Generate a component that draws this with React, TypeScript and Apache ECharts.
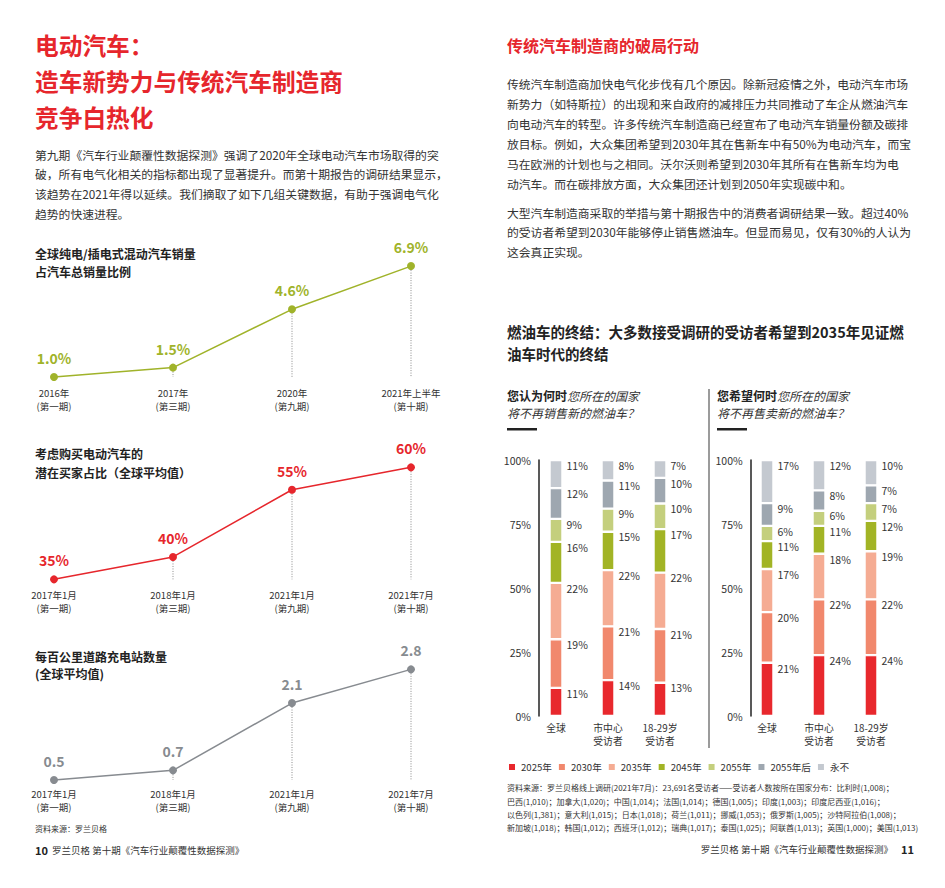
import React, { useEffect, useRef } from 'react';
import * as echarts from 'echarts';

const FONT = "'Noto Sans CJK SC', 'Noto Sans', sans-serif";
const RED = '#e6262c';
const GREEN = '#a0b32a';
const GRAY = '#878b90';
const TEXT = '#333333';

// ---- line charts ----
const evShareCategories = ['2016年\n(第一期)', '2017年\n(第三期)', '2020年\n(第九期)', '2021年上半年\n(第十期)'];
const evShareValues = [1.0, 1.5, 4.6, 6.9];
const buyerCategories = ['2017年1月\n(第一期)', '2018年1月\n(第三期)', '2021年1月\n(第九期)', '2021年7月\n(第十期)'];
const buyerValues = [35, 40, 55, 60];
const chargerCategories = ['2017年1月\n(第一期)', '2018年1月\n(第三期)', '2021年1月\n(第九期)', '2021年7月\n(第十期)'];
const chargerValues = [0.5, 0.7, 2.1, 2.8];

// ---- stacked bars ----
const stackNames = ['2025年', '2030年', '2035年', '2045年', '2055年', '2055年后', '永不'];
const stackColors = ['#e8282d', '#f1886d', '#f5ac93', '#a2b425', '#c4cf7d', '#9ea7b0', '#c4c9d0'];
const barCategories = ['全球', '市中心\n受访者', '18-29岁\n受访者'];

const willStop2025 = [11, 14, 13];
const willStop2030 = [19, 21, 21];
const willStop2035 = [22, 22, 22];
const willStop2045 = [16, 15, 17];
const willStop2055 = [9, 9, 10];
const willStopAfter2055 = [12, 11, 10];
const willStopNever = [11, 8, 7];

const hopeStop2025 = [21, 24, 24];
const hopeStop2030 = [20, 22, 22];
const hopeStop2035 = [17, 18, 19];
const hopeStop2045 = [11, 11, 12];
const hopeStop2055 = [6, 6, 7];
const hopeStopAfter2055 = [9, 8, 7];
const hopeStopNever = [17, 12, 10];

const pctTicks = [0, 25, 50, 75, 100];

function lineSeries(idx: number, values: number[], color: string, fmt: (v: number) => string) {
  return [
    {
      type: 'custom',
      xAxisIndex: idx,
      yAxisIndex: idx,
      silent: true,
      z: 1,
      data: values.map((v, i) => [i, v, values[0]]),
      renderItem: (params: any, api: any) => {
        const i = api.value(0);
        const p1 = api.coord([i, api.value(1)]);
        const p2 = api.coord([i, api.value(2)]);
        if (p1[1] >= p2[1] - 1) return { type: 'group', children: [] };
        return {
          type: 'line',
          shape: { x1: p1[0], y1: p1[1] + 4, x2: p2[0], y2: p2[1] },
          style: { stroke: '#8a8a8a', lineWidth: 1, lineDash: [1, 1.5] },
        };
      },
    },
    {
      type: 'line',
      xAxisIndex: idx,
      yAxisIndex: idx,
      data: values,
      symbol: 'circle',
      symbolSize: 8,
      z: 3,
      lineStyle: { color, width: 1.5 },
      itemStyle: { color },
      label: {
        show: true,
        position: 'top',
        distance: 8,
        color,
        fontSize: 14,
        fontWeight: 'bold',
        fontFamily: FONT,
        formatter: (p: any) => fmt(p.value),
      },
    },
  ];
}

function stackSeries(idx: number, groups: number[][]) {
  const totals = groups[0].map((_, j) => groups.reduce((s, g) => s + g[j], 0));
  return groups.map((g, k) => ({
    type: 'bar',
    name: stackNames[k],
    stack: 'total' + idx,
    xAxisIndex: idx,
    yAxisIndex: idx,
    barWidth: 13,
    data: g.map((v, j) => (v / totals[j]) * 100),
    itemStyle: { color: stackColors[k], borderColor: '#ffffff', borderWidth: 1.2 },
    label: {
      show: true,
      position: ['100%', 0],
      align: 'left',
      verticalAlign: 'top',
      offset: [4, 0],
      color: TEXT,
      fontSize: 10.5,
      fontFamily: FONT,
      formatter: (p: any) => g[p.dataIndex] + '%',
    },
  }));
}

function lineXAxis(idx: number, cats: string[]) {
  return {
    type: 'category',
    gridIndex: idx,
    data: cats,
    boundaryGap: false,
    axisLine: { show: false },
    axisTick: { show: false },
    axisLabel: { interval: 0, margin: 0, fontSize: 9.5, lineHeight: 13.3, color: TEXT, fontFamily: FONT },
  };
}
function hiddenY(idx: number, min: number, max: number) {
  return { type: 'value', gridIndex: idx, min, max, show: false, splitLine: { show: false } };
}
function barXAxis(idx: number) {
  return {
    type: 'category',
    gridIndex: idx,
    data: barCategories,
    axisLine: { show: false },
    axisTick: { show: false },
    axisLabel: { interval: 0, margin: 5, fontSize: 9.8, lineHeight: 13.5, color: TEXT, fontFamily: FONT },
  };
}
function barYAxis(idx: number, offset: number) {
  return {
    type: 'value',
    gridIndex: idx,
    min: pctTicks[0],
    max: pctTicks[pctTicks.length - 1],
    interval: pctTicks[1] - pctTicks[0],
    offset,
    axisLine: { show: true, lineStyle: { color: '#222', width: 1.5 } },
    axisTick: { show: false },
    splitLine: { show: false },
    axisLabel: { margin: 8, fontSize: 10.5, color: TEXT, fontFamily: FONT, formatter: '{value}%' },
  };
}

function txt(x: number, y: number, text: string, s: any) {
  return {
    type: 'text',
    x,
    y,
    silent: true,
    style: { text, fontFamily: FONT, fill: TEXT, verticalAlign: 'middle', ...s },
  };
}

const graphics: any[] = [
  txt(35, 27, '电动汽车：\n造车新势力与传统汽车制造商\n竞争白热化', {
    fontSize: 23.7, fontWeight: 'bold', lineHeight: 36, fill: RED, verticalAlign: 'top',
  }),
  txt(35, 144.2,
    '第九期《汽车行业颠覆性数据探测》强调了2020年全球电动汽车市场取得的突\n破，所有电气化相关的指标都出现了显著提升。而第十期报告的调研结果显示，\n该趋势在2021年得以延续。我们摘取了如下几组关键数据，有助于强调电气化\n趋势的快速进程。',
    { fontSize: 11.8, lineHeight: 19.7, verticalAlign: 'top' }),
  txt(35, 254 - 8.85, '全球纯电/插电式混动汽车销量\n占汽车总销量比例', { fontSize: 12, fontWeight: 'bold', lineHeight: 17.7, verticalAlign: 'top', fill: '#222' }),
  txt(35, 453.3 - 9.5, '考虑购买电动汽车的\n潜在买家占比（全球平均值）', { fontSize: 12, fontWeight: 'bold', lineHeight: 19, verticalAlign: 'top', fill: '#222' }),
  txt(35, 656.7 - 8.3, '每百公里道路充电站数量\n(全球平均值)', { fontSize: 12, fontWeight: 'bold', lineHeight: 16.6, verticalAlign: 'top', fill: '#222' }),
  txt(35, 828, '资料来源：罗兰贝格', { fontSize: 8 }),
  txt(35, 850, '10', { fontSize: 11, fontWeight: 'bold', fill: '#222' }),
  txt(52, 850, '罗兰贝格 第十期《汽车行业颠覆性数据探测》', { fontSize: 9.5 }),

  txt(507, 45, '传统汽车制造商的破局行动', { fontSize: 16, fontWeight: 'bold', fill: RED }),
  txt(507, 73,
    '传统汽车制造商加快电气化步伐有几个原因。除新冠疫情之外，电动汽车市场\n新势力（如特斯拉）的出现和来自政府的减排压力共同推动了车企从燃油汽车\n向电动汽车的转型。许多传统汽车制造商已经宣布了电动汽车销量份额及碳排\n放目标。例如，大众集团希望到2030年其在售新车中有50%为电动汽车，而宝\n马在欧洲的计划也与之相同。沃尔沃则希望到2030年其所有在售新车均为电\n动汽车。而在碳排放方面，大众集团还计划到2050年实现碳中和。',
    { fontSize: 11.8, lineHeight: 20, verticalAlign: 'top' }),
  txt(507, 203,
    '大型汽车制造商采取的举措与第十期报告中的消费者调研结果一致。超过40%\n的受访者希望到2030年能够停止销售燃油车。但显而易见，仅有30%的人认为\n这会真正实现。',
    { fontSize: 11.8, lineHeight: 19.2, verticalAlign: 'top' }),
  txt(507, 320, '燃油车的终结：大多数接受调研的受访者希望到2035年见证燃\n油车时代的终结', {
    fontSize: 14.5, fontWeight: 'bold', lineHeight: 22, verticalAlign: 'top', fill: '#222',
  }),
  {
    type: 'text', x: 507, y: 386.5, silent: true,
    style: {
      text: '{b|您认为何时}{i|您所在的国家}\n{i|将不再销售新的燃油车？}',
      fontFamily: FONT, fontSize: 12, fill: TEXT, verticalAlign: 'top', lineHeight: 17,
      rich: {
        b: { fontWeight: 'bold', fontSize: 12, fill: '#222', fontFamily: FONT, lineHeight: 17 },
        i: { fontStyle: 'italic', fontSize: 12, fill: TEXT, fontFamily: FONT, lineHeight: 17 },
      },
    },
  },
  {
    type: 'text', x: 717, y: 386.5, silent: true,
    style: {
      text: '{b|您希望何时}{i|您所在的国家}\n{i|将不再售卖新的燃油车？}',
      fontFamily: FONT, fontSize: 12, fill: TEXT, verticalAlign: 'top', lineHeight: 17,
      rich: {
        b: { fontWeight: 'bold', fontSize: 12, fill: '#222', fontFamily: FONT, lineHeight: 17 },
        i: { fontStyle: 'italic', fontSize: 12, fill: TEXT, fontFamily: FONT, lineHeight: 17 },
      },
    },
  },
  { type: 'rect', silent: true, shape: { x: 507, y: 428, width: 30, height: 2.5 }, style: { fill: '#222' } },
  { type: 'rect', silent: true, shape: { x: 717, y: 428, width: 30, height: 2.5 }, style: { fill: '#222' } },
  { type: 'line', silent: true, shape: { x1: 709, y1: 389, x2: 709, y2: 748 }, style: { stroke: '#7a7a7a', lineWidth: 1.5 } },

  txt(507, 781.3,
    '资料来源：罗兰贝格线上调研(2021年7月)：23,691名受访者——受访者人数按所在国家分布：比利时(1,008)；\n巴西(1,010)；加拿大(1,020)；中国(1,014)；法国(1,014)；德国(1,005)；印度(1,003)；印度尼西亚(1,016)；\n以色列(1,381)；意大利(1,015)；日本(1,018)；荷兰(1,011)；挪威(1,053)；俄罗斯(1,005)；沙特阿拉伯(1,008)；\n新加坡(1,018)；韩国(1,012)；西班牙(1,012)；瑞典(1,017)；泰国(1,025)；阿联酋(1,013)；英国(1,000)；美国(1,013)',
    { fontSize: 8, lineHeight: 13.3, verticalAlign: 'top' }),
  txt(893, 849, '罗兰贝格 第十期《汽车行业颠覆性数据探测》', { fontSize: 9.5, align: 'right' }),
  txt(901, 849, '11', { fontSize: 11, fontWeight: 'bold', fill: '#222' }),
];

const option: any = {
  animation: false,
  backgroundColor: '#ffffff',
  textStyle: { fontFamily: FONT },
  grid: [
    { left: 54, width: 357, top: 254.8, height: 131.6 },
    { left: 54, width: 357, top: 453.9, height: 134.4 },
    { left: 54, width: 357, top: 659.75, height: 127.45 },
    { left: 530, width: 156, top: 460, height: 256 },
    { left: 741, width: 156, top: 460, height: 256 },
  ],
  xAxis: [
    lineXAxis(0, evShareCategories),
    lineXAxis(1, buyerCategories),
    lineXAxis(2, chargerCategories),
    barXAxis(3),
    barXAxis(4),
  ],
  yAxis: [
    hiddenY(0, 0.5, 7.5),
    hiddenY(1, 33, 63),
    hiddenY(2, 0.35, 3),
    barYAxis(3, -9),
    barYAxis(4, -9.7),
  ],
  legend: {
    left: 507,
    top: 762,
    padding: 0,
    itemWidth: 8,
    itemHeight: 8,
    itemGap: 5,
    icon: 'rect',
    data: stackNames,
    textStyle: { fontSize: 9.6, color: TEXT, fontFamily: FONT },
  },
  series: [
    ...lineSeries(0, evShareValues, GREEN, (v) => v.toFixed(1) + '%'),
    ...lineSeries(1, buyerValues, RED, (v) => v + '%'),
    ...lineSeries(2, chargerValues, GRAY, (v) => v.toFixed(1)),
    ...stackSeries(3, [willStop2025, willStop2030, willStop2035, willStop2045, willStop2055, willStopAfter2055, willStopNever]),
    ...stackSeries(4, [hopeStop2025, hopeStop2030, hopeStop2035, hopeStop2045, hopeStop2055, hopeStopAfter2055, hopeStopNever]),
  ],
  graphic: graphics,
};

export default function App() {
  const ref = useRef<HTMLDivElement>(null);
  useEffect(() => {
    if (!ref.current) return;
    const chart = echarts.init(ref.current, null, { renderer: 'svg' });
    chart.setOption(option);
    return () => chart.dispose();
  }, []);
  return (
    <div
      ref={ref}
      style={{ position: 'absolute', left: 0, top: 0, width: 945, height: 888, background: '#fff' }}
    />
  );
}
